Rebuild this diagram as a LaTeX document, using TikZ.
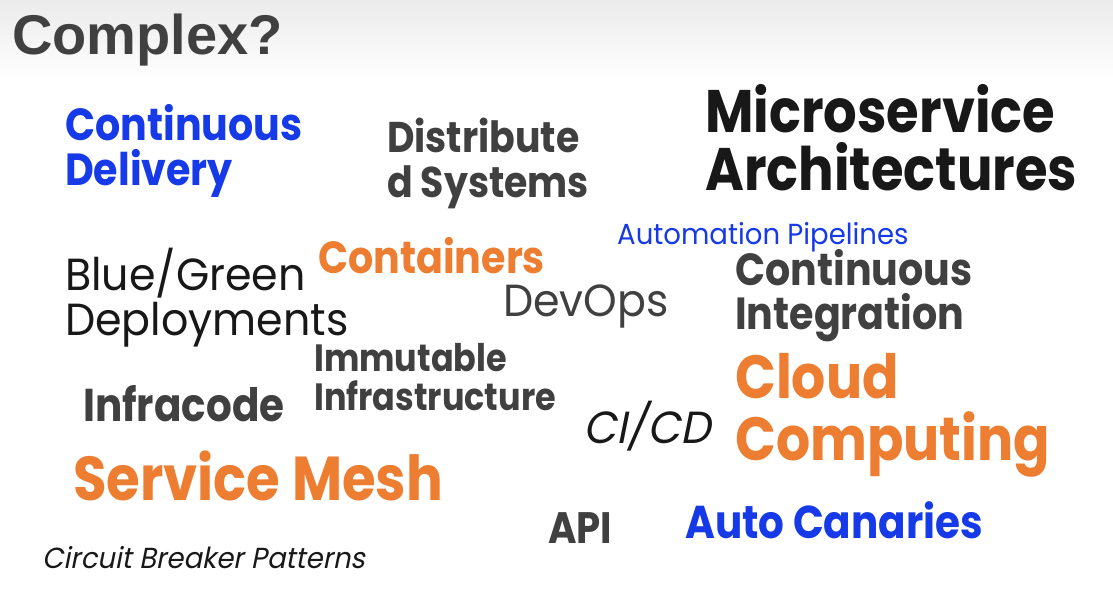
\documentclass[tikz,border=0pt]{standalone}
\usepackage{fontspec}
\setmainfont{Poppins}
\newfontfamily\headfont{Liberation Sans}
\newfontfamily\boldfont[FakeStretch=0.88]{Poppins}
\newfontfamily\thinfont[FakeStretch=0.95]{Poppins}
\newfontfamily\slantfont[FakeSlant=0.2, FakeStretch=0.95]{Poppins}
\usetikzlibrary{positioning}

\definecolor{wordblue}{RGB}{22,58,232}
\definecolor{wordorange}{RGB}{237,125,49}
\definecolor{worddark}{RGB}{64,64,64}
\definecolor{wordblack}{RGB}{24,24,24}

\begin{document}
\begin{tikzpicture}[
    x=1pt, y=-1pt,
    word/.style={inner sep=0pt, anchor=base west, align=left},
    boldword/.style={word, font=\boldfont\bfseries},
    thinword/.style={word, font=\thinfont},
    slantword/.style={word, font=\slantfont}
]
% background
\useasboundingbox (0,0) rectangle (1113,594);
\fill[white] (0,0) rectangle (1113,594);
\shade[top color=black!8, bottom color=white] (0,0) rectangle (1113,80);

% title
\node (Title) [word, font=\headfont\bfseries\fontsize{56}{56}\selectfont, text=worddark]
  at (12,55) {Complex?};

% words (multi-line nodes sit on the baseline of their last line)
\node (ContDelivery) [boldword, text=wordblue, font=\boldfont\bfseries\fontsize{45}{45}\selectfont]
  at (65,185) {Continuous\\Delivery};
\node (DistSystems) [boldword, text=worddark, font=\boldfont\bfseries\fontsize{43}{45}\selectfont]
  at (387,197) {Distribute\\d Systems};
\node (Microservice) [boldword, text=wordblack, font=\boldfont\bfseries\fontsize{60}{58}\selectfont]
  at (705,190) {Microservice\\Architectures};
\node (Automation) [thinword, text=wordblue, font=\thinfont\fontsize{29}{29}\selectfont]
  at (617,244) {Automation Pipelines};
\node (BlueGreen) [thinword, text=wordblack, font=\thinfont\fontsize{45}{45}\selectfont]
  at (65,335) {Blue/Green\\Deployments};
\node (Containers) [boldword, text=wordorange, font=\boldfont\bfseries\fontsize{45}{45}\selectfont]
  at (318,273) {Containers};
\node (DevOps) [thinword, text=worddark, font=\thinfont\fontsize{45}{45}\selectfont]
  at (503,316) {DevOps};
\node (ContIntegration) [boldword, text=worddark, font=\boldfont\bfseries\fontsize{45}{44}\selectfont]
  at (735,329) {Continuous\\Integration};
\node (Immutable) [boldword, text=worddark, font=\boldfont\bfseries\fontsize{38}{39}\selectfont]
  at (314,410) {Immutable\\Infrastructure};
\node (Infracode) [boldword, text=worddark, font=\boldfont\bfseries\fontsize{46}{46}\selectfont]
  at (83,421) {Infracode};
\node (Cloud) [boldword, text=wordorange, font=\boldfont\bfseries\fontsize{61}{62}\selectfont]
  at (735,460) {Cloud\\Computing};
\node (CICD) [slantword, text=wordblack, font=\slantfont\fontsize{45}{45}\selectfont]
  at (583,443) {CI/CD};
\node (ServiceMesh) [boldword, text=wordorange, font=\boldfont\bfseries\fontsize{62}{62}\selectfont]
  at (73,500) {Service Mesh};
\node (API) [boldword, text=worddark, font=\boldfont\bfseries\fontsize{44}{44}\selectfont]
  at (548,543) {API};
\node (Canaries) [boldword, text=wordblue, font=\boldfont\bfseries\fontsize{46}{46}\selectfont]
  at (685,538) {Auto Canaries};
\node (Circuit) [slantword, text=wordblack, font=\slantfont\fontsize{29}{29}\selectfont]
  at (42,568) {Circuit Breaker Patterns};

\end{tikzpicture}
\end{document}
